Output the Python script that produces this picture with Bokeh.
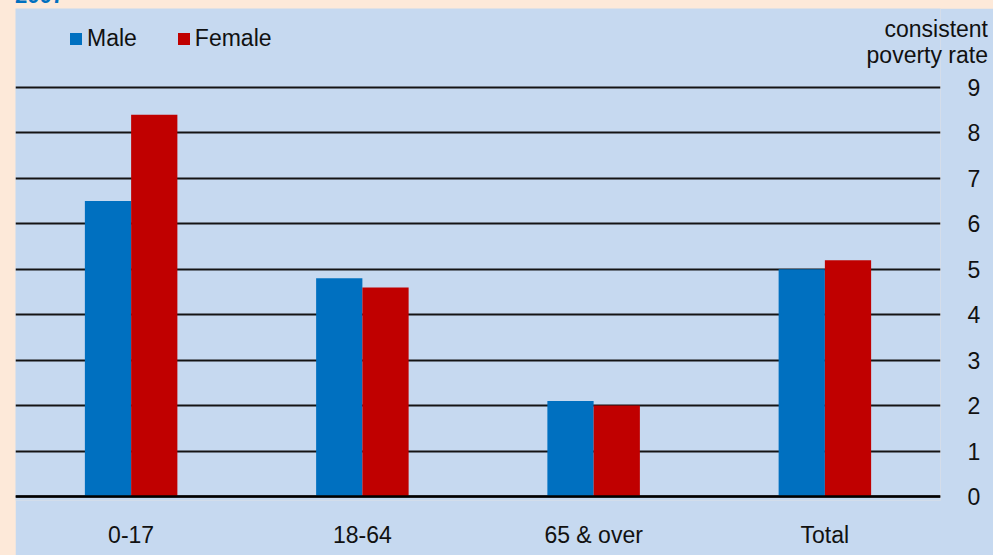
from bokeh.plotting import figure
from bokeh.models import ColumnDataSource, FactorRange, Range1d, Span, FixedTicker, Div
from bokeh.transform import dodge
from bokeh.layouts import column
from bokeh.embed import file_html
from bokeh.resources import INLINE

# Consistent poverty rate (%) by age group and sex
groups = ["0-17", "18-64", "65 & over", "Total"]
male = [6.5, 4.8, 2.1, 5.0]
female = [8.4, 4.6, 2.0, 5.2]
y_ticks = [0, 1, 2, 3, 4, 5, 6, 7, 8, 9]
year = "2007"
axis_title = ["consistent", "poverty rate"]

PEACH = "#FDE9D9"
PANEL = "#C6D9F0"
MALE_C = "#0070C0"
FEMALE_C = "#C00000"
TEXT_C = "#111111"
FONT = "Liberation Sans"
FS = "23px"

src = ColumnDataSource(dict(group=groups, male=male, female=female))

p = figure(
    width=978, height=547,
    x_range=FactorRange(factors=groups, range_padding=0),
    y_range=Range1d(-0.088, 10.738),
    y_axis_location="right",
    output_backend="svg", toolbar_location=None,
    min_border_left=0, min_border_top=0, min_border_right=53, min_border_bottom=55,
    background_fill_color=PANEL, border_fill_color=PANEL,
    outline_line_color=None,
    margin=(8, 0, 0, 15),
)

p.vbar(x=dodge("group", -0.1, range=p.x_range), top="male", width=0.2, source=src,
       fill_color=MALE_C, line_color=None, legend_label="Male")
p.vbar(x=dodge("group", 0.1, range=p.x_range), top="female", width=0.2, source=src,
       fill_color=FEMALE_C, line_color=None, legend_label="Female")

# horizontal gridlines behind the bars, baseline on top
p.xgrid.visible = False
p.ygrid.ticker = FixedTicker(ticks=y_ticks)
p.ygrid.grid_line_color = "#141414"
p.ygrid.grid_line_width = 2
p.add_layout(Span(location=0, dimension="width", line_color="black", line_width=2.5, level="overlay"))

for ax in (p.xaxis[0], p.yaxis[0]):
    ax.axis_line_color = None
    ax.major_tick_line_color = None
    ax.minor_tick_line_color = None
    ax.major_label_text_font = FONT
    ax.major_label_text_font_size = FS
    ax.major_label_text_color = TEXT_C
p.yaxis.ticker = FixedTicker(ticks=y_ticks)
p.yaxis.major_label_standoff = 21
p.xaxis.major_label_standoff = 15

lg = p.legend[0]
lg.location = (53, 448)
lg.orientation = "horizontal"
lg.glyph_width = 15
lg.glyph_height = 15
lg.label_standoff = 4
lg.spacing = 39
lg.padding = 0
lg.margin = 0
lg.background_fill_alpha = 0
lg.border_line_alpha = 0
lg.label_text_font = FONT
lg.label_text_font_size = FS
lg.label_text_color = TEXT_C

# year heading, mostly above the top edge
year_div = Div(
    text=(f'<div style="font:bold 22px \'{FONT}\';line-height:22px;color:{MALE_C};'
          f'white-space:nowrap;">{year}</div>'),
    width=80, height=22, margin=0,
    styles={"position": "absolute", "left": "15px", "top": "-15px"},
)

# unit caption above the value axis
title_div = Div(
    text=(f'<div style="width:160px;font:23px \'{FONT}\';line-height:26px;color:{TEXT_C};'
          f'text-align:right;white-space:nowrap;">{axis_title[0]}<br>{axis_title[1]}</div>'),
    width=160, height=52, margin=0,
    styles={"position": "absolute", "left": "828px", "top": "16px", "width": "160px"},
)

page = column(p, year_div, title_div, spacing=0,
              styles={"background-color": PEACH, "position": "relative"})

open("out.html", "w").write(file_html(page, INLINE))
